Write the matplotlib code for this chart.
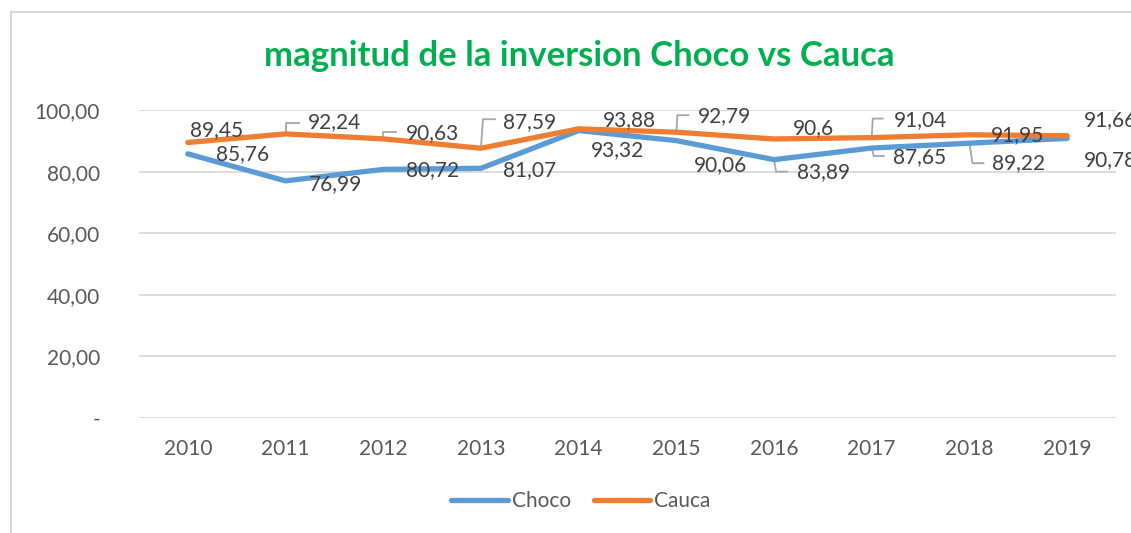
#!/usr/bin/env python3
import numpy as np
import matplotlib
matplotlib.use('Agg')
import matplotlib.pyplot as plt
from matplotlib.ticker import FuncFormatter
from matplotlib.patches import Rectangle

years = ['2010', '2011', '2012', '2013', '2014', '2015', '2016', '2017', '2018', '2019']
choco = [85.76, 76.99, 80.72, 81.07, 93.32, 90.06, 83.89, 87.65, 89.22, 90.78]
cauca = [89.45, 92.24, 90.63, 87.59, 93.88, 92.79, 90.60, 91.04, 91.95, 91.66]
choco_txt = ['85,76', '76,99', '80,72', '81,07', '93,32', '90,06', '83,89', '87,65', '89,22', '90,78']
cauca_txt = ['89,45', '92,24', '90,63', '87,59', '93,88', '92,79', '90,6', '91,04', '91,95', '91,66']

# label offsets in pixels (dx, dy up) -- excel placed them by hand
cauca_off = [(29, 12), (49, 12), (49, 6), (49, 26), (51, 9), (48, 16), (39, 11), (49, 18), (48, 0), (43, 16)]
choco_off = [(55, 0), (50, -3), (49, -1), (49, -2), (39, -20), (44, -24), (49, -12), (48, -9), (49, -20), (43, -22)]
# leader lines: series, index, polyline in pixel offsets
leaders = [
    ('cauca', 1, [(0, 0), (0, 11), (13, 11)]),
    ('cauca', 2, [(0, 0), (0, 7), (13, 7)]),
    ('cauca', 3, [(0, 0), (2, 29), (14, 29)]),
    ('cauca', 5, [(0, 0), (1, 17), (12, 17)]),
    ('choco', 6, [(0, 0), (2, -12), (13, -12)]),
    ('cauca', 7, [(0, 0), (1, 19), (11, 19)]),
    ('choco', 7, [(0, 0), (2, -8), (12, -8)]),
    ('choco', 8, [(0, 0), (3, -20), (14, -20)]),
]

BLUE, ORANGE = '#5B9BD5', '#ED7D31'
TXT = '#595959'
GRID = '#D9D9D9'
plt.rcParams['font.family'] = ['Lato', 'DejaVu Sans']

W, H = 1131, 533
fig = plt.figure(figsize=(W / 100, H / 100), dpi=100)
ax = fig.add_axes([139 / W, 1 - 418 / H, (1116 - 139) / W, (418 - 110) / H])

# chart frame
fig.patches.append(Rectangle((11 / W, -0.1), 2, 1 - 12 / H + 0.1, transform=fig.transFigure,
                             fill=False, edgecolor=GRID, lw=1.5))

x = np.arange(len(years))
ax.set_xlim(-0.5, len(years) - 0.5)
ax.set_ylim(0, 100)
ax.set_yticks(np.arange(0, 101, 20))
ax.yaxis.set_major_formatter(FuncFormatter(lambda v, p: '-' if v == 0 else f'{v:.2f}'.replace('.', ',')))
ax.set_xticks(x)
ax.set_xticklabels(years)
ax.grid(axis='y', color=GRID, lw=1.3)
ax.set_axisbelow(True)
for s in ax.spines.values():
    s.set_visible(False)
ax.tick_params(axis='y', length=0, pad=28, labelsize=15, labelcolor=TXT)
ax.tick_params(axis='x', length=0, pad=15, labelsize=15, labelcolor=TXT)

ax.plot(x, choco, color=BLUE, lw=3.8, solid_capstyle='round', solid_joinstyle='round', label='Choco', zorder=3)
ax.plot(x, cauca, color=ORANGE, lw=3.8, solid_capstyle='round', solid_joinstyle='round', label='Cauca', zorder=4)

series = {'choco': choco, 'cauca': cauca}
inv = ax.transData.inverted()
for name, i, pts in leaders:
    p = ax.transData.transform((x[i], series[name][i]))
    dd = inv.transform([(p[0] + dx, p[1] + dy) for dx, dy in pts])
    ax.plot(dd[:, 0], dd[:, 1], color='#A6A6A6', lw=1.3, zorder=2, clip_on=False)

for vals, txts, offs in [(cauca, cauca_txt, cauca_off), (choco, choco_txt, choco_off)]:
    for i in range(len(vals)):
        ax.annotate(txts[i], (x[i], vals[i]), xytext=offs[i], textcoords='offset pixels',
                    ha='center', va='center', fontsize=15, color='#404040', zorder=5,
                    annotation_clip=False)

fig.text(579 / W, 1 - 56 / H, 'magnitud de la inversion Choco vs Cauca', ha='center', va='center',
         fontsize=25, fontweight='bold', color='#00B050')

fig.legend(loc='center', bbox_to_anchor=(581 / W, 1 - 501 / H), ncol=2, frameon=False,
           fontsize=15, labelcolor=TXT, handlelength=2.7, handletextpad=0.2, columnspacing=1.1)

fig.savefig('out.png', dpi=100)
